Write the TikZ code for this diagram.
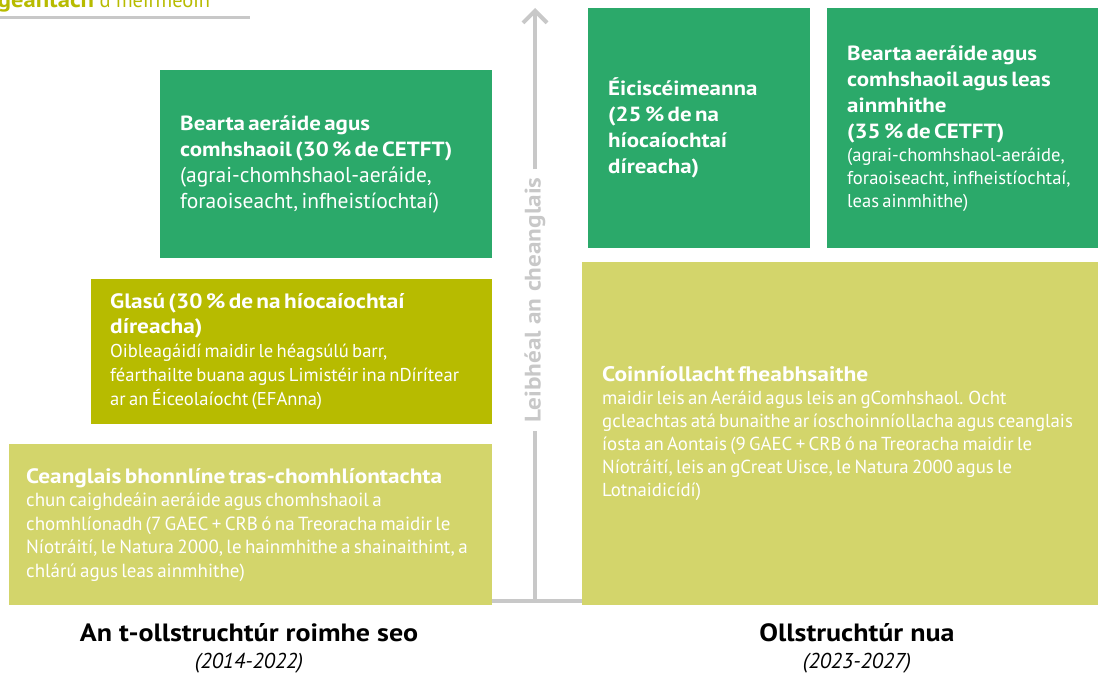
\documentclass[tikz,border=0pt]{standalone}
\usepackage{fontspec}
\setmainfont{PT Sans}[BoldFeatures={FakeStretch=1.12}]
\usetikzlibrary{arrows.meta}
\setlength{\parindent}{0pt}
\setlength{\parskip}{0pt}

\definecolor{agrigreen}{HTML}{2BA96A}
\definecolor{glasolive}{HTML}{B7BB00}
\definecolor{basepale}{HTML}{D3D56B}
\definecolor{axisgray}{HTML}{C8C8C8}

\newcommand{\headtxt}[2]{\bfseries\fontsize{#1}{#2}\selectfont}
\newcommand{\bodytxt}[2]{\mdseries\fontsize{#1}{#2}\selectfont}

\tikzset{
    block/.style={anchor=north west, inner xsep=20pt, inner ysep=0pt,
        align=left, text=white},
    axisline/.style={draw=axisgray, line width=4pt},
    axislabel/.style={rotate=90, text=axisgray, inner sep=8pt,
        font=\bfseries\fontsize{22.5}{26}\selectfont},
    caption/.style={font=\bfseries\fontsize{25}{30}\selectfont},
    years/.style={font=\itshape\fontsize{21.5}{25}\selectfont}
}

\begin{document}
\begin{tikzpicture}[x=1pt, y=-1pt]
    \useasboundingbox (0,0) rectangle (1098,677);

    % header, cut off at the page edge
    \node[anchor=base west, inner sep=0pt, text=glasolive,
        font=\fontsize{20.5}{25}\selectfont] (hdr) at (-9,7.5)
        {{\fontsize{22}{26}\selectfont\bfseries igeantach} d meirmeoin};
    \draw[draw=axisgray, line width=3pt] (0,18) -- (250,18);

    % previous structure
    \node[block, fill=agrigreen, text width=292pt, minimum height=188pt] (eco) at (160,70)
        {\headtxt{20.5}{26}Bearta aeráide agus\\ comhshaoil (30~\% de CETFT)\par
         \bodytxt{21.5}{26}(agrai-chomhshaol-aeráide,\\ foraoiseacht, infheistíochtaí)\par};
    \node[block, fill=glasolive, text width=363pt, minimum height=145pt, inner xsep=19pt] (glas) at (91,279)
        {\headtxt{20.8}{25}Glasú (30~\% de na híocaíochtaí\\ díreacha)\par
         \bodytxt{18.6}{24}Oibleagáidí maidir le héagsúlú barr,\\
         féarthailte buana agus Limistéir ina nDírítear\\ ar an Éiceolaíocht (EFAnna)\par};
    \node[block, fill=basepale, text width=449pt, minimum height=161pt, inner xsep=17pt] (xcomp) at (9,444)
        {\headtxt{20.8}{25}Ceanglais bhonnlíne tras-chomhlíontachta\par
         \bodytxt{19}{23.5}chun caighdeáin aeráide agus chomhshaoil a\\
         chomhlíonadh (7 GAEC + CRB ó na Treoracha maidir le\\
         Níotráití, le Natura 2000, le hainmhithe a shainaithint, a\\
         chlárú agus leas ainmhithe)\par};

    % new structure
    \node[block, fill=agrigreen, text width=182pt, minimum height=240pt] (escheme) at (588,8)
        {\headtxt{20.5}{26}Éiciscéimeanna\\ (25~\% de na\\ híocaíochtaí\\ díreacha)\par};
    \node[block, fill=agrigreen, text width=231pt, minimum height=240pt] (ecoanim) at (827,8)
        {\headtxt{20.5}{26}Bearta aeráide agus\\ comhshaoil agus leas\\ ainmhithe\\ (35~\% de CETFT)\par
         \bodytxt{18.6}{23}(agrai-chomhshaol-aeráide,\\ foraoiseacht, infheistíochtaí,\\ leas ainmhithe)\par};
    \node[block, fill=basepale, text width=476pt, minimum height=343pt] (cond) at (582,262)
        {\headtxt{21}{25}Coinníollacht fheabhsaithe\par
         \bodytxt{18.8}{23}maidir leis an Aeráid agus leis an gComhshaol. Ocht\\
         gcleachtas atá bunaithe ar íoschoinníollacha agus ceanglais\\
         íosta an Aontais (9 GAEC + CRB ó na Treoracha maidir le\\
         Níotráití, leis an gCreat Uisce, le Natura 2000 agus le\\
         Lotnaidicídí)\par};

    % level axis
    \coordinate (axbase) at (535,601);
    \coordinate (axtop) at (535,8);
    \node[axislabel] (lvl) at (535,300) {Leibhéal an cheanglais};
    \draw[axisline] (axbase) -- (lvl.west);
    \draw[axisline, -{Straight Barb[length=12pt, width=24pt]}] (lvl.east) -- (axtop);
    \draw[axisline] (axbase -| xcomp.east) -- (axbase -| cond.west);

    % captions
    \node[caption] (oldcap) at (249,633) {An t-ollstruchtúr roimhe seo};
    \node[years] (oldyrs) at (249,663) {(2014-2022)};
    \node[caption] (newcap) at (857,633) {Ollstruchtúr nua};
    \node[years] (newyrs) at (857,663) {(2023-2027)};
\end{tikzpicture}
\end{document}
